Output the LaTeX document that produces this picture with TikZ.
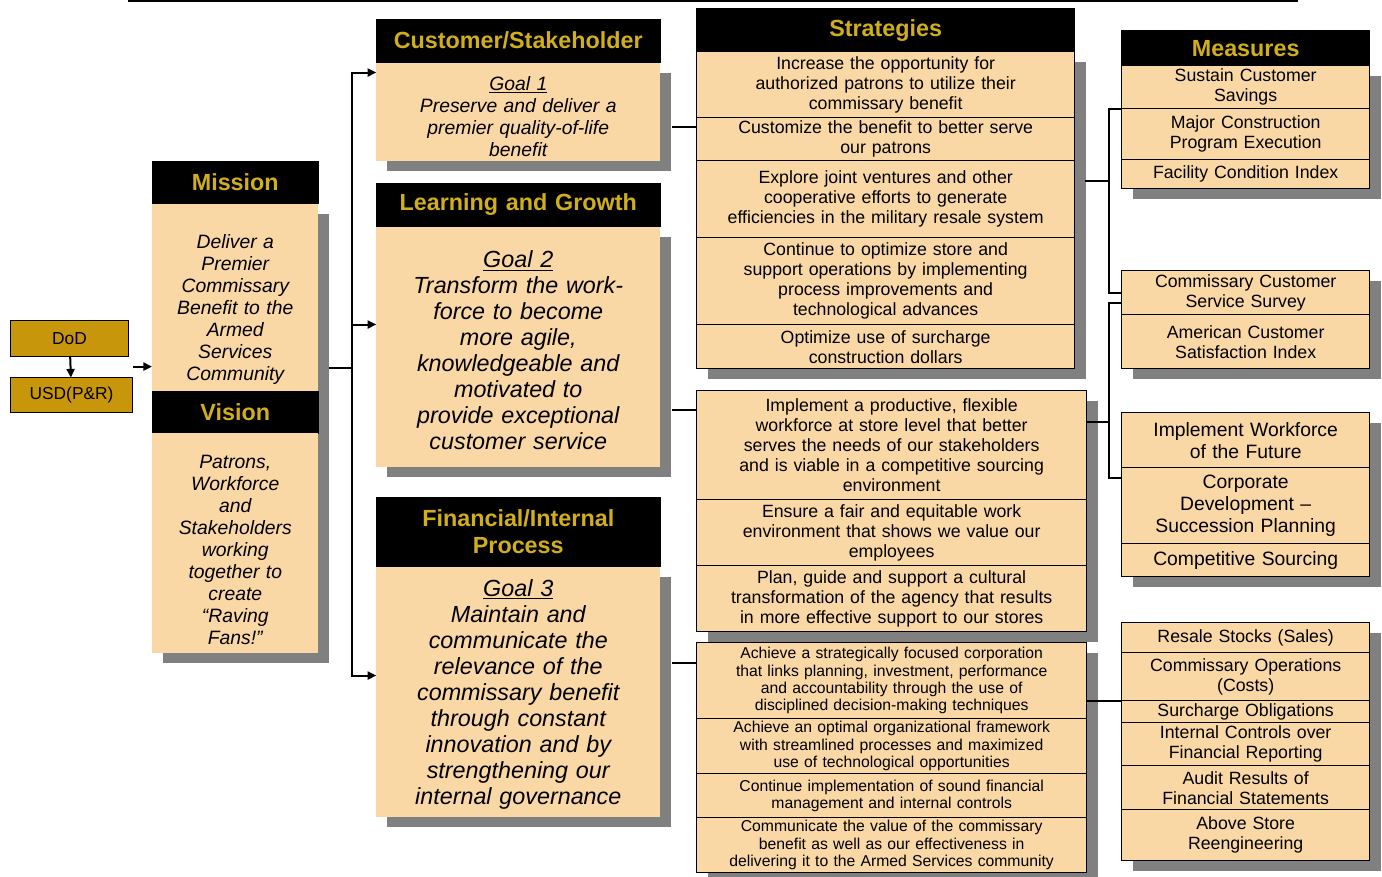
\documentclass[tikz,border=0pt]{standalone}
\usepackage{fontspec}
\setmainfont{Liberation Sans}
\usetikzlibrary{arrows.meta,backgrounds}

\definecolor{peach}{HTML}{FAD8A6}
\definecolor{gold}{HTML}{D1AE1C}
\definecolor{dodgold}{HTML}{C8960A}
\definecolor{shadowgrey}{HTML}{808080}

\tikzset{
  hdr/.style={draw=black, fill=black, text=gold, font=\fontsize{17.5}{20}\selectfont\bfseries},
  plain/.style={fill=peach, font=\itshape\fontsize{14.5}{16.5}\selectfont},
  goaltext/.style={fill=peach, font=\itshape\fontsize{17.5}{19.5}\selectfont},
  cell/.style={draw, fill=peach, line width=1pt, font=\fontsize{13.3}{15}\selectfont},
  smallcell/.style={cell, font=\fontsize{11.8}{13}\selectfont},
  bigcell/.style={cell, font=\fontsize{14.5}{16.5}\selectfont},
  conn/.style={line width=1.5pt},
  boxcol/.style={anchor=north west, inner sep=0pt, outer sep=0pt,
    nodes={inner sep=0pt, outer sep=0pt, align=center, text width=#1}},
}

\begin{document}
\begin{tikzpicture}[x=0.75pt, y=-0.75pt, >={Triangle[length=6.5pt,width=6pt]}]
  \useasboundingbox (0,0) rectangle (1382,876);
  \draw [line width=2pt] (128,1) -- (1298,1);

  % chain of command
  \matrix (org) [anchor=north west, inner sep=0pt, outer sep=0pt, row sep=15pt,
    nodes={draw, fill=dodgold, line width=0.8pt, inner sep=0pt, anchor=west,
      font=\fontsize{13}{15}\selectfont}] at (10,320)
  {
    \node [minimum width=88.5pt, minimum height=27pt] (dod) {DoD}; \\
    \node [minimum width=91.5pt, minimum height=26.25pt] (usd) {USD(P\&R)}; \\
  };

  % mission and vision
  \matrix (mv) [boxcol=124.5pt] at (152,161)
  {
    \node [hdr, minimum height=31.5pt] (mh) {Mission}; \\
    \node [plain, minimum height=140.25pt] (mb) {\rule{0pt}{28.6pt}Deliver a\\Premier\\Commissary\\Benefit to the\\Armed\\Services\\Community}; \\
    \node [hdr, minimum height=31.5pt] (vh) {Vision}; \\
    \node [plain, minimum height=165pt] (vb) {\rule{0pt}{19.6pt}Patrons,\\Workforce\\and\\Stakeholders\\working\\together to\\create\\“Raving\\Fans!”}; \\
  };

  % goals
  \matrix (goal1) [boxcol=213pt] at (376,19)
  {
    \node [hdr, minimum height=32.25pt] (g1h) {Customer/Stakeholder}; \\
    \node [plain, minimum height=73.5pt] (g1b) {\rule{0pt}{18.1pt}\underline{Goal 1}\\Preserve and deliver a\\premier quality-of-life\\benefit}; \\
  };
  \matrix (goal2) [boxcol=213pt] at (376,183)
  {
    \node [hdr, minimum height=32.25pt] (g2h) {Learning and Growth}; \\
    \node [goaltext, minimum height=180pt] (g2b) {\rule{0pt}{18.8pt}\underline{Goal 2}\\Transform the work-\\force to become\\more agile,\\knowledgeable and\\motivated to\\provide exceptional\\customer service}; \\
  };
  \matrix (goal3) [boxcol=213pt] at (376,497)
  {
    \node [hdr, minimum height=51.75pt] (g3h) {Financial/Internal\\Process}; \\
    \node [goaltext, minimum height=187.5pt] (g3b) {\rule{0pt}{17.3pt}\underline{Goal 3}\\Maintain and\\communicate the\\relevance of the\\commissary benefit\\through constant\\innovation and by\\strengthening our\\internal governance}; \\
  };

  % strategies
  \matrix (strat1) [boxcol=283.5pt, row sep=-1pt] at (696,8)
  {
    \node [hdr, line width=1pt, minimum height=32.25pt] (sh) {Strategies}; \\
    \node [cell, minimum height=49.5pt] (s11) {Increase the opportunity for\\authorized patrons to utilize their\\commissary benefit}; \\
    \node [cell, minimum height=32.25pt] (s12) {Customize the benefit to better serve\\our patrons}; \\
    \node [cell, minimum height=57.75pt] (s13) {Explore joint ventures and other\\cooperative efforts to generate\\efficiencies in the military resale system}; \\
    \node [cell, minimum height=65.25pt] (s14) {Continue to optimize store and\\support operations by implementing\\process improvements and\\technological advances}; \\
    \node [cell, minimum height=33pt] (s15) {Optimize use of surcharge\\construction dollars}; \\
  };
  \matrix (strat2) [boxcol=292.5pt, row sep=-1pt] at (696,390)
  {
    \node [cell, minimum height=81.75pt] (s21) {Implement a productive, flexible\\workforce at store level that better\\serves the needs of our stakeholders\\and is viable in a competitive sourcing\\environment}; \\
    \node [cell, minimum height=49.5pt] (s22) {Ensure a fair and equitable work\\environment that shows we value our\\employees}; \\
    \node [cell, minimum height=49.5pt] (s23) {Plan, guide and support a cultural\\transformation of the agency that results\\in more effective support to our stores}; \\
  };
  \matrix (strat3) [boxcol=292.5pt, row sep=-1pt] at (696,642)
  {
    \node [smallcell, minimum height=57pt] (s31) {Achieve a strategically focused corporation\\that links planning, investment, performance\\and accountability through the use of\\disciplined decision-making techniques}; \\
    \node [smallcell, minimum height=41.25pt] (s32) {Achieve an optimal organizational framework\\with streamlined processes and maximized\\use of technological opportunities}; \\
    \node [smallcell, minimum height=33pt] (s33) {Continue implementation of sound financial\\management and internal controls}; \\
    \node [smallcell, minimum height=41.25pt] (s34) {Communicate the value of the commissary\\benefit as well as our effectiveness in\\delivering it to the Armed Services community}; \\
  };

  % measures
  \matrix (meas1) [boxcol=186pt, row sep=-1pt] at (1121,30)
  {
    \node [hdr, line width=1pt, minimum height=26.25pt] (mhd) {Measures}; \\
    \node [cell, minimum height=32.25pt] (m11) {Sustain Customer\\Savings}; \\
    \node [cell, minimum height=38.25pt] (m12) {Major Construction\\Program Execution}; \\
    \node [cell, minimum height=21.75pt] (m13) {Facility Condition Index}; \\
  };
  \matrix (meas2) [boxcol=186pt, row sep=-1pt] at (1121,270)
  {
    \node [cell, minimum height=33pt] (m21) {Commissary Customer\\Service Survey}; \\
    \node [cell, minimum height=40.5pt] (m22) {American Customer\\Satisfaction Index}; \\
  };
  \matrix (meas3) [boxcol=186pt, row sep=-1pt] at (1121,412)
  {
    \node [bigcell, minimum height=41.25pt] (m31) {Implement Workforce\\of the Future}; \\
    \node [bigcell, minimum height=57pt] (m32) {Corporate\\Development –\\Succession Planning}; \\
    \node [bigcell, minimum height=24.75pt] (m33) {Competitive Sourcing}; \\
  };
  \matrix (meas4) [boxcol=186pt, row sep=-1pt] at (1121,622)
  {
    \node [cell, minimum height=22.5pt] (m41) {Resale Stocks (Sales)}; \\
    \node [cell, minimum height=36pt] (m42) {Commissary Operations\\(Costs)}; \\
    \node [cell, minimum height=16.5pt] (m43) {Surcharge Obligations}; \\
    \node [cell, minimum height=32.25pt] (m44) {Internal Controls over\\Financial Reporting}; \\
    \node [cell, minimum height=33pt] (m45) {Audit Results of\\Financial Statements}; \\
    \node [cell, minimum height=38.25pt] (m46) {Above Store\\Reengineering}; \\
  };

  % drop shadows
  \begin{scope}[on background layer]
    \fill [shadowgrey] ([shift={(11,10)}]mb.north west) rectangle ([shift={(11,10)}]vb.south east);
    \fill [shadowgrey] ([shift={(11,10)}]g1b.north west) rectangle ([shift={(11,10)}]g1b.south east);
    \fill [shadowgrey] ([shift={(11,10)}]g2b.north west) rectangle ([shift={(11,10)}]g2b.south east);
    \fill [shadowgrey] ([shift={(11,10)}]g3b.north west) rectangle ([shift={(11,10)}]g3b.south east);
    \fill [shadowgrey] ([shift={(11,10)}]s11.north west) rectangle ([shift={(11,10)}]s15.south east);
    \fill [shadowgrey] ([shift={(11,10)}]s21.north west) rectangle ([shift={(11,10)}]s23.south east);
    \fill [shadowgrey] ([shift={(11,10)}]s31.north west) rectangle ([shift={(11,10)}]s34.south east);
    \fill [shadowgrey] ([shift={(11,10)}]m11.north west) rectangle ([shift={(11,10)}]m13.south east);
    \fill [shadowgrey] ([shift={(11,10)}]m21.north west) rectangle ([shift={(11,10)}]m22.south east);
    \fill [shadowgrey] ([shift={(11,10)}]m31.north west) rectangle ([shift={(11,10)}]m33.south east);
    \fill [shadowgrey] ([shift={(11,10)}]m41.north west) rectangle ([shift={(11,10)}]m46.south east);
  \end{scope}

  % chain of command to mission
  \draw [conn, ->] (dod) -- (usd);
  \draw [conn, ->] (org.east) -- (org.east -| mv.west);

  % mission to goals
  \coordinate (mout) at (329,368);
  \coordinate (fork) at (352,368);
  \draw [conn] (mout) -- (fork);
  \draw [conn, ->] (fork) |- ([yshift=-7.5pt]g1b.north west);
  \draw [conn, ->] (fork) |- ([yshift=-73.5pt]g2b.north west);
  \draw [conn, ->] (fork) |- ([yshift=-81.75pt]g3b.north west);

  % goals to strategies
  \coordinate (g1out) at (672,127);
  \coordinate (g2out) at (672,410);
  \coordinate (g3out) at (672,663);
  \draw [conn] (g1out) -- (g1out -| s11.west);
  \draw [conn] (g2out) -- (g2out -| s21.west);
  \draw [conn] (g3out) -- (g3out -| s31.west);

  % strategies to measures
  \coordinate (s1out) at (1085,181);
  \coordinate (sj1) at (1109,181);
  \coordinate (sj2) at (1109,422);
  \draw [conn] (s1out) -- (sj1);
  \draw [conn] (m11.south west) -| (sj1) |- (m21.west);
  \draw [conn] (sj2 -| s21.east) -- (sj2);
  \draw [conn] ([yshift=-8pt]m21.west) -| (sj2) |- ([yshift=-7.5pt]m32.north west);
  \draw [conn] (m42.south west -| s31.east) -- (m42.south west);
\end{tikzpicture}
\end{document}
